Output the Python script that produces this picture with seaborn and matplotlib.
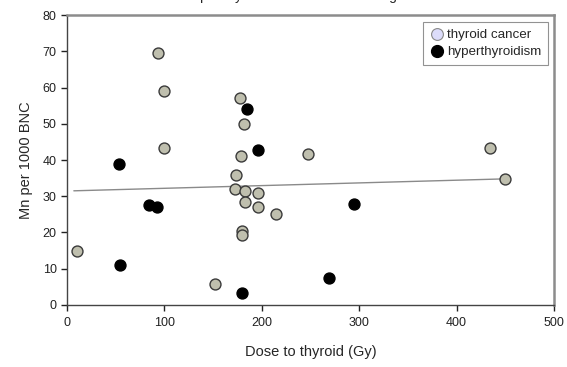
import numpy as np
import pandas as pd
import matplotlib
matplotlib.use("Agg")
import matplotlib.pyplot as plt
import seaborn as sns
from matplotlib.lines import Line2D

# thyroid cancer patients (dose in Gy, Mn per 1000 BNC)
cancer_dose = [93, 100, 100, 10, 178, 182, 179, 173, 172, 183, 196, 183, 196, 215, 180, 180, 152, 247, 434, 450]
cancer_mn = [69.6, 59.0, 43.3, 15.0, 57.2, 49.9, 41.2, 36.0, 31.9, 31.5, 30.8, 28.4, 27.0, 25.1, 20.4, 19.2, 5.7, 41.7, 43.3, 34.8]

# hyperthyroidism patients
hyper_dose = [53, 54, 84, 92, 185, 196, 180, 295, 269]
hyper_mn = [38.8, 10.9, 27.7, 27.0, 54.2, 42.9, 3.4, 27.9, 7.4]

# trend line
fit_dose = [7, 450]
fit_mn = [31.5, 34.8]

cancer = pd.DataFrame({"dose": cancer_dose, "mn": cancer_mn})
hyper = pd.DataFrame({"dose": hyper_dose, "mn": hyper_mn})
fit = pd.DataFrame({"dose": fit_dose, "mn": fit_mn})

sns.set_style("white")
plt.rcParams["font.family"] = ["Liberation Sans", "DejaVu Sans"]

fig = plt.figure(figsize=(5.67, 3.67), dpi=100)
ax = fig.add_axes([0.1182, 0.169, 0.8588, 0.790])

sns.lineplot(data=fit, x="dose", y="mn", ax=ax, color="#8a8a8a", linewidth=1.0, zorder=1)
sns.scatterplot(data=cancer, x="dose", y="mn", ax=ax, s=62, color="#bfbfae",
                edgecolor="#3a3a3a", linewidth=1.0, zorder=3)
sns.scatterplot(data=hyper, x="dose", y="mn", ax=ax, s=62, color="black",
                edgecolor="black", linewidth=1.0, zorder=3)

ax.set_xlim(0, 500)
ax.set_ylim(0, 80)
ax.set_xticks(range(0, 501, 100))
ax.set_yticks(range(0, 81, 10))
ax.set_xlabel("Dose to thyroid (Gy)", fontsize=10.5, labelpad=11)
ax.set_ylabel("Mn per 1000 BNC", fontsize=10.5, labelpad=7)
ax.tick_params(axis="both", which="both", direction="out", length=4, width=1,
               labelsize=9, colors="#222222", left=True, bottom=True)
ax.tick_params(axis="x", pad=5)

for side in ["left", "bottom"]:
    ax.spines[side].set_color("#444444")
    ax.spines[side].set_linewidth(1.0)
for side in ["top", "right"]:
    ax.spines[side].set_color("#8c8c8c")
    ax.spines[side].set_linewidth(1.8)

handles = [
    Line2D([], [], marker="o", linestyle="", markersize=8.5, markerfacecolor="#dcdcfa",
           markeredgecolor="#888888", markeredgewidth=0.8, label="thyroid cancer"),
    Line2D([], [], marker="o", linestyle="", markersize=8.5, markerfacecolor="black",
           markeredgecolor="black", label="hyperthyroidism"),
]
leg = ax.legend(handles=handles, loc="upper right", bbox_to_anchor=(0.988, 0.975),
                fontsize=9.6, frameon=True, fancybox=False, handletextpad=0.3,
                handlelength=1.0, borderpad=0.5, labelspacing=0.35, borderaxespad=0)
leg.get_frame().set_edgecolor("#777777")
leg.get_frame().set_linewidth(0.8)

# title is cut off at the top edge of the picture
fig.text(0.312, 1.0, "Mn per Gy at the lowest and the highest dose", fontsize=10,
         ha="left", va="baseline")

fig.savefig("out.png", dpi=100)
